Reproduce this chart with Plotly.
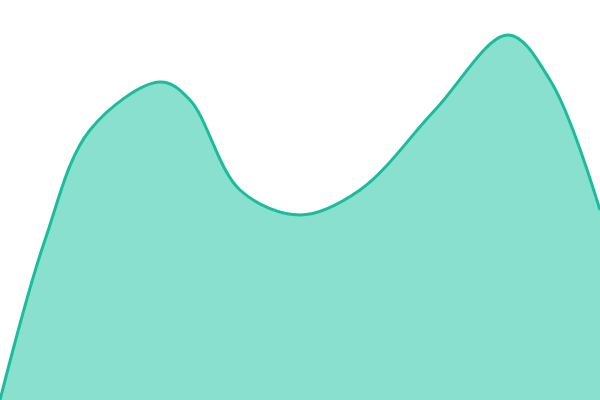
import plotly.graph_objects as go

x_vals = [0, 45, 90, 160, 190, 240, 300, 360, 435, 508, 550, 600]
y_vals = [0, 160, 270, 318, 300, 210, 185, 210, 290, 365, 320, 190]

fig = go.Figure(go.Scatter(
    x=x_vals, y=y_vals, mode="lines",
    line=dict(color="#1abc9c", width=3, shape="spline", smoothing=1.0),
    fill="tozeroy", fillcolor="rgba(22,194,160,0.5)",
    hoverinfo="skip",
))
fig.update_layout(
    width=600, height=400, margin=dict(l=0, r=0, t=0, b=0),
    paper_bgcolor="white", plot_bgcolor="white", showlegend=False,
    xaxis=dict(range=[0, 600], visible=False, fixedrange=True),
    yaxis=dict(range=[0, 400], visible=False, fixedrange=True),
)
fig.write_html(
    "out.html",
    config={"displayModeBar": False},
    post_script="document.body.style.margin='0';document.body.style.overflow='hidden';",
)
